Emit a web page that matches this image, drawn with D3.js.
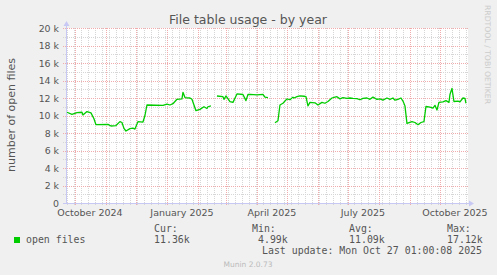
<!DOCTYPE html>
<html>
<head>
<meta charset="utf-8">
<script src="https://cdn.jsdelivr.net/npm/d3@7"></script>
<style>
    body { margin: 0; background: #f0f0f0; }
    svg { display: block; }
</style>
</head>
<body>
<svg id="chart" width="497" height="275"></svg>
<script>
// daily samples (null = no data)
const dates = [
    "2024-09-23", "2024-09-28", "2024-10-03", "2024-10-08", "2024-10-09", "2024-10-13",
    "2024-10-17", "2024-10-20", "2024-10-22", "2024-11-03", "2024-11-06", "2024-11-11",
    "2024-11-15", "2024-11-17", "2024-11-19", "2024-11-21", "2024-11-25", "2024-11-28",
    "2024-11-30", "2024-12-03", "2024-12-08", "2024-12-10", "2024-12-12", "2024-12-28",
    "2025-01-01", "2025-01-04", "2025-01-07", "2025-01-11", "2025-01-16", "2025-01-17",
    "2025-01-19", "2025-01-24", "2025-01-26", "2025-01-30", "2025-02-03", "2025-02-07",
    "2025-02-10", "2025-02-11", "2025-02-14", "2025-02-17", "2025-02-20", "2025-02-26",
    "2025-02-27", "2025-03-01", "2025-03-05", "2025-03-08", "2025-03-12", "2025-03-18",
    "2025-03-21", "2025-03-23", "2025-03-25", "2025-04-01", "2025-04-07", "2025-04-09",
    "2025-04-12", "2025-04-15", "2025-04-19", "2025-04-22", "2025-04-24", "2025-04-27",
    "2025-05-01", "2025-05-04", "2025-05-07", "2025-05-08", "2025-05-11", "2025-05-14",
    "2025-05-18", "2025-05-20", "2025-05-22", "2025-05-24", "2025-05-29", "2025-06-01",
    "2025-06-05", "2025-06-08", "2025-06-11", "2025-06-15", "2025-06-18", "2025-06-20",
    "2025-06-23", "2025-06-26", "2025-06-30", "2025-07-03", "2025-07-06", "2025-07-10",
    "2025-07-13", "2025-07-16", "2025-07-20", "2025-07-23", "2025-07-26", "2025-07-30",
    "2025-08-02", "2025-08-05", "2025-08-09", "2025-08-12", "2025-08-15", "2025-08-17",
    "2025-08-20", "2025-08-23", "2025-08-25", "2025-08-27", "2025-08-29", "2025-09-03",
    "2025-09-06", "2025-09-09", "2025-09-12", "2025-09-15", "2025-09-17", "2025-09-21",
    "2025-09-24", "2025-09-26", "2025-09-28", "2025-09-30", "2025-10-04", "2025-10-07",
    "2025-10-10", "2025-10-11", "2025-10-13", "2025-10-15", "2025-10-19", "2025-10-21",
    "2025-10-24", "2025-10-26", "2025-10-27"
];

const openFiles = [
    10370, 10140, 10330, 10370, 10060, 10450,
    10300, 9630, 8950, 8980, 8800, 8850,
    9300, 9200, 8530, 8230, 8500, 8550,
    8450, 9300, 9250, 10000, 11200, 11150,
    11300, 11200, 11350, 11850, 11900, 12650,
    12050, 12000, 11850, 10550, 10700, 11000,
    10800, 11000, 11100, null, 12230, 12150,
    11850, 12230, 11580, 11500, 12460, 12400,
    11700, 12400, 12420, 12350, 12420, 12100,
    12050, null, 9180, 9400, 11200, 11400,
    11900, 11800, 12100, 12000, 12150, 12250,
    12200, 12150, 11090, 11500, 11450, 11200,
    11500, 11400, 11600, 12000, 12100, 12150,
    11900, 12050, 11950, 12000, 11950, 11920,
    11800, 11950, 12000, 11850, 12100, 11850,
    11900, 11750, 12000, 11850, 12000, 11750,
    11850, 12000, 11650, 11100, 9100, 9300,
    9200, 8950, 9200, 9300, 11030, 10950,
    10850, 11160, 10630, 11500, 11550, 11700,
    11500, 12400, 13100, 11600, 11650, 11550,
    12000, 11950, 11400
];

const yTicks = d3.range(0, 20001, 1000);
const labelMonths = ["2024-10-01", "2025-01-01", "2025-04-01", "2025-07-01", "2025-10-01"];

const legendName = "open files";
const statNames = ["Cur:", "Min:", "Avg:", "Max:"];
const statValues = ["11.36k", "4.99k", "11.09k", "17.12k"];
const lastUpdate = "Last update: Mon Oct 27 01:00:08 2025";

const parse = d3.utcParse("%Y-%m-%d");
const data = dates.map((d, i) => ({ date: parse(d), value: openFiles[i] }));

const svg = d3.select("#chart");
const sans = "DejaVu Sans, sans-serif";
const mono = "DejaVu Sans Mono, monospace";
const textColor = "#555";
const lineColor = "#00cc00";

const plot = { left: 66, right: 466, top: 28, bottom: 203 };

const x = d3.scaleUtc()
    .domain([Date.UTC(2024, 8, 22, 1), Date.UTC(2025, 9, 27, 1)])
    .range([plot.left, plot.right]);

const y = d3.scaleLinear()
    .domain([0, 20000])
    .range([plot.bottom, plot.top]);

svg.append("rect")
    .attr("width", 497)
    .attr("height", 275)
    .attr("fill", "#f0f0f0");

svg.append("rect")
    .attr("x", plot.left)
    .attr("y", plot.top)
    .attr("width", plot.right - plot.left + 2)
    .attr("height", plot.bottom - plot.top)
    .attr("fill", "#ffffff");

// grid
const grid = svg.append("g")
    .attr("shape-rendering", "crispEdges")
    .attr("stroke-dasharray", "1,1")
    .attr("stroke-width", 1);

const weeks = d3.utcMonday.range(x.domain()[0], x.domain()[1]);
const months = d3.utcMonth.range(x.domain()[0], x.domain()[1]);
const minorColor = "#d6d6d6";
const majorColor = "#f0acac";

grid.selectAll(".minor-x")
    .data(weeks)
    .join("line")
    .attr("x1", d => Math.round(x(d)) + 0.5)
    .attr("x2", d => Math.round(x(d)) + 0.5)
    .attr("y1", plot.top)
    .attr("y2", plot.bottom + 3)
    .attr("stroke", minorColor);

grid.selectAll(".minor-y")
    .data(yTicks.filter(v => v > 0 && v % 2000 !== 0))
    .join("line")
    .attr("x1", plot.left - 3)
    .attr("x2", plot.right + 2)
    .attr("y1", d => Math.round(y(d)) + 0.5)
    .attr("y2", d => Math.round(y(d)) + 0.5)
    .attr("stroke", minorColor);

grid.selectAll(".major-x")
    .data(months)
    .join("line")
    .attr("x1", d => Math.round(x(d)) + 0.5)
    .attr("x2", d => Math.round(x(d)) + 0.5)
    .attr("y1", plot.top)
    .attr("y2", plot.bottom + 3)
    .attr("stroke", majorColor);

grid.selectAll(".major-y")
    .data(yTicks.filter(v => v > 0 && v % 2000 === 0))
    .join("line")
    .attr("x1", plot.left - 3)
    .attr("x2", plot.right + 2)
    .attr("y1", d => Math.round(y(d)) + 0.5)
    .attr("y2", d => Math.round(y(d)) + 0.5)
    .attr("stroke", majorColor);

// axes with arrows
const axisColor = "#c8c8f4";
svg.append("line")
    .attr("x1", plot.left + 0.5).attr("x2", plot.left + 0.5)
    .attr("y1", plot.bottom).attr("y2", plot.top - 4)
    .attr("stroke", axisColor);
svg.append("line")
    .attr("x1", plot.left - 3).attr("x2", plot.right + 4)
    .attr("y1", plot.bottom + 0.5).attr("y2", plot.bottom + 0.5)
    .attr("stroke", axisColor);
svg.append("path")
    .attr("d", `M${plot.left - 2.5},${plot.top - 2}L${plot.left + 3.5},${plot.top - 2}L${plot.left + 0.5},${plot.top - 7}Z`)
    .attr("fill", axisColor);
svg.append("path")
    .attr("d", `M${plot.right + 3},${plot.bottom - 2.5}L${plot.right + 3},${plot.bottom + 3.5}L${plot.right + 8},${plot.bottom + 0.5}Z`)
    .attr("fill", axisColor);

// y tick labels
svg.append("g")
    .selectAll("text")
    .data(yTicks.filter(v => v % 2000 === 0))
    .join("text")
    .attr("x", 59)
    .attr("y", d => y(d) + 3.5)
    .attr("text-anchor", "end")
    .attr("font-family", sans)
    .attr("font-size", 9.4)
    .attr("fill", textColor)
    .text(d => d === 0 ? "0" : `${d / 1000} k`);

// x tick labels, centred mid-month
const monthFormat = d3.utcFormat("%B %Y");
svg.append("g")
    .selectAll("text")
    .data(labelMonths.map(parse))
    .join("text")
    .attr("x", d => x(d3.utcDay.offset(d, 15)))
    .attr("y", 216)
    .attr("text-anchor", "middle")
    .attr("font-family", sans)
    .attr("font-size", 9.5)
    .attr("fill", textColor)
    .text(d => monthFormat(d));

// the series
const line = d3.line()
    .defined(d => d.value !== null)
    .x(d => x(d.date))
    .y(d => y(d.value));

svg.append("path")
    .datum(data)
    .attr("d", line)
    .attr("fill", "none")
    .attr("stroke", lineColor)
    .attr("stroke-width", 1.3)
    .attr("stroke-linejoin", "round");

// title and axis label
svg.append("text")
    .attr("x", 248)
    .attr("y", 24)
    .attr("text-anchor", "middle")
    .attr("font-family", sans)
    .attr("font-size", 12.5)
    .attr("fill", textColor)
    .text("File table usage - by year");

svg.append("text")
    .attr("transform", "translate(15,115) rotate(-90)")
    .attr("text-anchor", "middle")
    .attr("font-family", sans)
    .attr("font-size", 11)
    .attr("fill", textColor)
    .text("number of open files");

svg.append("text")
    .attr("transform", "translate(485,5) rotate(90)")
    .attr("text-anchor", "start")
    .attr("font-family", sans)
    .attr("font-size", 7.7)
    .attr("fill", "#cccccc")
    .text("RRDTOOL / TOBI OETIKER");

// legend
svg.append("rect")
    .attr("x", 14)
    .attr("y", 237)
    .attr("width", 6)
    .attr("height", 6)
    .attr("fill", lineColor);

const legend = svg.append("g")
    .attr("font-family", mono)
    .attr("font-size", 9.9)
    .attr("fill", textColor);

legend.append("text")
    .attr("x", 26)
    .attr("y", 243)
    .text(legendName);

const statCols = [154, 252, 349, 447];
const charW = 5.96;

legend.selectAll(".stat-name")
    .data(statNames)
    .join("text")
    .attr("x", (d, i) => statCols[i])
    .attr("y", 232)
    .text(d => d);

legend.selectAll(".stat-value")
    .data(statValues)
    .join("text")
    .attr("x", (d, i) => statCols[i] + 6 * charW)
    .attr("y", 243)
    .attr("text-anchor", "end")
    .text(d => d);

legend.append("text")
    .attr("x", 482)
    .attr("y", 254)
    .attr("text-anchor", "end")
    .text(lastUpdate);

svg.append("text")
    .attr("x", 248)
    .attr("y", 267)
    .attr("text-anchor", "middle")
    .attr("font-family", sans)
    .attr("font-size", 7.5)
    .attr("fill", "#bbbbbb")
    .text("Munin 2.0.73");
</script>
</body>
</html>
